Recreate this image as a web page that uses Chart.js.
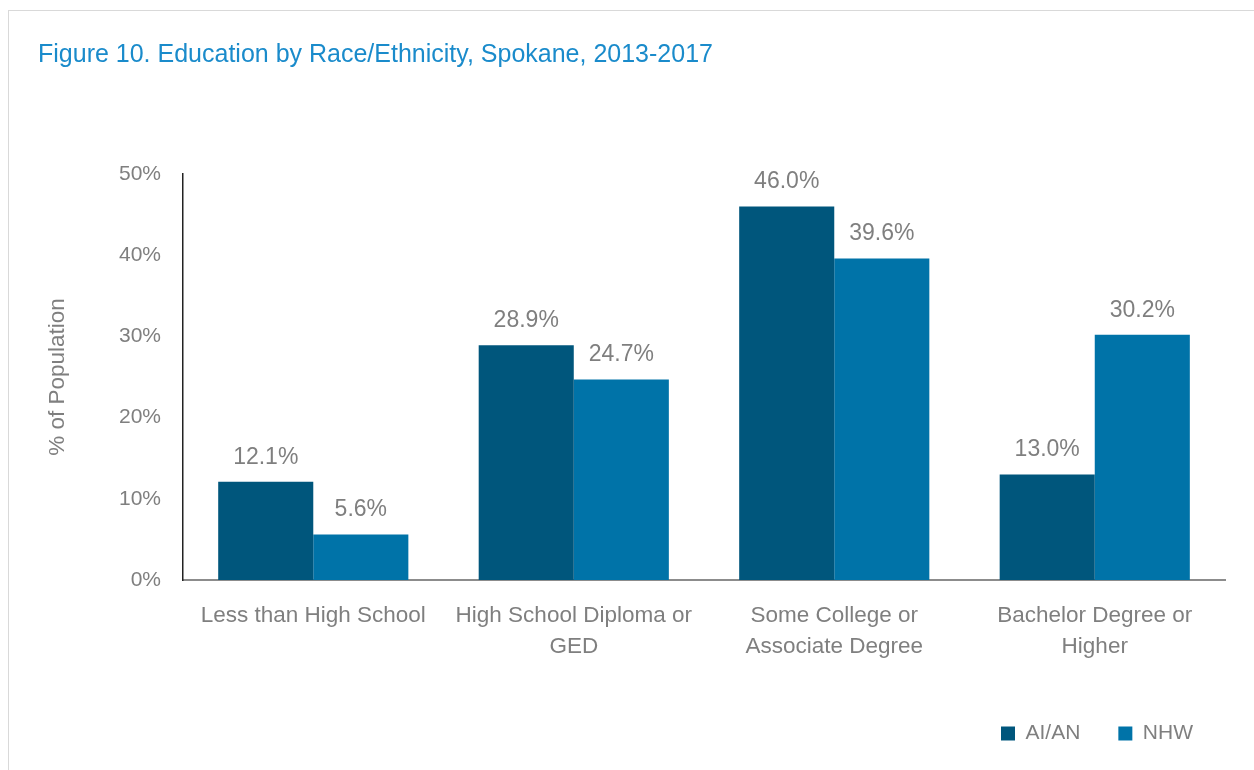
<!DOCTYPE html>
<html>
<head>
<meta charset="utf-8">
<script src="https://cdn.jsdelivr.net/npm/chart.js@4"></script>
<style>
  html, body { margin: 0; padding: 0; background: #fff; }
  #wrap { position: relative; width: 1254px; height: 770px; }
  #frame { position: absolute; left: 8px; top: 10px; width: 1260px; height: 780px; border: 1px solid #d9d9d9; }
  canvas { position: absolute; left: 0; top: 0; }
</style>
</head>
<body>
<div id="wrap">
  <div id="frame"></div>
  <canvas id="myChart" width="1254" height="770"></canvas>
</div>
<script>
var categories = [
  'Less than High School',
  ['High School Diploma or', 'GED'],
  ['Some College or', 'Associate Degree'],
  ['Bachelor Degree or', 'Higher']
];
var aianValues = [12.1, 28.9, 46.0, 13.0];
var nhwValues = [5.6, 24.7, 39.6, 30.2];
var yTicks = [0, 10, 20, 30, 40, 50];

var FONT = '"Liberation Sans", Arial, sans-serif';
var GRAY = '#7f7f7f';

// draws the value above each bar
var barLabels = {
  id: 'barLabels',
  afterDatasetsDraw: function(chart) {
    var ctx = chart.ctx;
    ctx.save();
    ctx.font = '23px ' + FONT;
    ctx.fillStyle = GRAY;
    ctx.textAlign = 'center';
    ctx.textBaseline = 'bottom';
    chart.data.datasets.forEach(function(ds, i) {
      chart.getDatasetMeta(i).data.forEach(function(bar, j) {
        ctx.fillText(ds.data[j].toFixed(1) + '%', bar.x, bar.y - 13);
      });
    });
    ctx.restore();
  }
};

// nudge the legend a little to the right
var legendShift = {
  id: 'legendShift',
  afterLayout: function(chart) {
    chart.legend.left += 6;
    chart.legend.right += 6;
  }
};

var ctx = document.getElementById('myChart').getContext('2d');
var myChart = new Chart(ctx, {
  type: 'bar',
  data: {
    labels: categories,
    datasets: [{
      label: 'AI/AN',
      data: aianValues,
      backgroundColor: '#00567c'
    }, {
      label: 'NHW',
      data: nhwValues,
      backgroundColor: '#0073a8'
    }]
  },
  plugins: [barLabels, legendShift],
  options: {
    responsive: false,
    animation: false,
    categoryPercentage: 0.73,
    barPercentage: 1.0,
    layout: {
      padding: { left: 38, right: 29, top: 40, bottom: 16 }
    },
    scales: {
      x: {
        grid: { display: false, drawTicks: false },
        border: { color: '#8c8c8c', width: 2 },
        ticks: {
          color: GRAY,
          font: { family: FONT, size: 22.5, lineHeight: 1.4 },
          padding: 20,
          maxRotation: 0
        },
        afterFit: function(scale) { scale.height += 2; }
      },
      y: {
        min: 0,
        max: 50,
        afterBuildTicks: function(axis) {
          axis.ticks = yTicks.map(function(v) { return { value: v }; });
        },
        grid: { display: false, drawTicks: false },
        border: { color: '#222', width: 1.5 },
        ticks: {
          color: GRAY,
          font: { family: FONT, size: 21 },
          padding: 22,
          callback: function(v) { return v + '%'; }
        },
        title: {
          display: true,
          text: '% of Population',
          color: GRAY,
          font: { family: FONT, size: 22.5 },
          padding: { top: 6, bottom: 26 }
        }
      }
    },
    plugins: {
      title: {
        display: true,
        text: 'Figure 10. Education by Race/Ethnicity, Spokane, 2013-2017',
        align: 'start',
        color: '#1a8bcb',
        font: { family: FONT, size: 25, weight: 'normal' },
        padding: { top: 0, bottom: 104 }
      },
      legend: {
        position: 'bottom',
        align: 'end',
        labels: {
          color: GRAY,
          font: { family: FONT, size: 21 },
          boxWidth: 14,
          boxHeight: 14,
          padding: 38
        }
      },
      tooltip: { enabled: false }
    }
  }
});
</script>
</body>
</html>
